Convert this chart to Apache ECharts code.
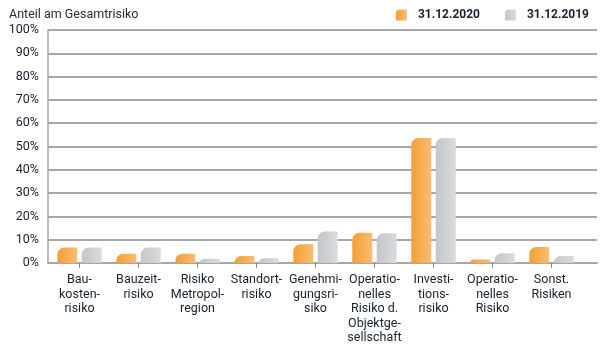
<!DOCTYPE html>
<html>
<head>
<meta charset="utf-8">
<script src="https://cdn.jsdelivr.net/npm/echarts@6/dist/echarts.min.js"></script>
<style>
  html, body { margin: 0; padding: 0; background: #fff; }
  #chart { width: 600px; height: 348px; }
</style>
</head>
<body>
<div id="chart"></div>
<script>
// Risk categories (line breaks as printed under the axis)
const categories = [
  'Bau-\nkosten-\nrisiko',
  'Bauzeit-\nrisiko',
  'Risiko\nMetropol-\nregion',
  'Standort-\nrisiko',
  'Genehmi-\ngungsri-\nsiko',
  'Operatio-\nnelles\nRisiko d.\nObjektge-\nsellschaft',
  'Investi-\ntions-\nrisiko',
  'Operatio-\nnelles\nRisiko',
  'Sonst.\nRisiken'
];
// Share of total risk in percent
const values2020 = [6.6, 4.0, 4.0, 3.0, 8.0, 13.0, 53.6, 1.5, 6.9];
const values2019 = [6.6, 6.6, 1.8, 2.0, 13.5, 12.8, 53.6, 4.2, 3.0];
const seriesNames = ['31.12.2020', '31.12.2019'];
const yTicks = { min: 0, max: 100, step: 10 };

const textColor = '#17202e';
const gridColor = '#a6a6a6';
const font = 'Roboto';

function grad(c1, c2) {
  return new echarts.graphic.LinearGradient(0, 0, 1, 0, [
    { offset: 0, color: c1 }, { offset: 1, color: c2 }
  ]);
}
const orange = grad('#f59e34', '#f9bd70');
const gray = grad('#c3c7ca', '#d9dbdd');
const cornerIcon = 'path://M7,0 L20,0 L20,20 L0,20 L0,7 Q0,0 7,0 Z';

const chart = echarts.init(document.getElementById('chart'), null, { renderer: 'canvas' });
chart.setOption({
  animation: false,
  backgroundColor: '#fff',
  title: {
    text: 'Anteil am Gesamtrisiko',
    left: 4, top: 3,
    textStyle: { fontFamily: font, fontSize: 12.5, fontWeight: 'normal', color: '#262b33' }
  },
  legend: {
    right: 6, top: 4,
    itemWidth: 11, itemHeight: 12,
    itemGap: 25,
    icon: cornerIcon,
    textStyle: { fontFamily: font, fontSize: 12, fontWeight: 'bold', color: textColor, padding: [0, 0, 0, 6] },
    data: seriesNames
  },
  grid: [
    { left: 48, right: 3, top: 30, bottom: 85 },
    { left: 50, right: 19, top: 30, bottom: 85 }
  ],
  xAxis: [
    {
      gridIndex: 0, type: 'value', min: 0, max: 1,
      axisLine: { show: true, lineStyle: { color: gridColor, width: 2 } },
      axisTick: { show: false }, axisLabel: { show: false }, splitLine: { show: false }
    },
    {
      gridIndex: 1, type: 'category', data: categories,
      axisLine: { show: false },
      axisTick: { show: true, alignWithLabel: true, length: 5, lineStyle: { color: '#8a8a8a', width: 1 } },
      axisLabel: {
        interval: 0, margin: 10,
        fontFamily: font, fontSize: 12.5, lineHeight: 14.5, color: textColor, align: 'center'
      }
    }
  ],
  yAxis: [
    {
      gridIndex: 0, type: 'value', min: yTicks.min, max: yTicks.max, interval: yTicks.step,
      axisLine: { show: true, lineStyle: { color: gridColor, width: 1.5 } },
      axisTick: { show: false },
      axisLabel: { formatter: '{value}%', fontFamily: font, fontSize: 12.5, color: textColor, margin: 9 },
      splitLine: { show: true, lineStyle: { color: gridColor, width: 2 } }
    },
    {
      gridIndex: 1, type: 'value', min: yTicks.min, max: yTicks.max, interval: yTicks.step, show: false,
      splitLine: { show: false }
    }
  ],
  series: [
    {
      name: seriesNames[0], type: 'bar', xAxisIndex: 1, yAxisIndex: 1,
      data: values2020, barWidth: 20, barGap: '22%',
      itemStyle: { color: orange, borderRadius: [7, 0, 0, 0] }
    },
    {
      name: seriesNames[1], type: 'bar', xAxisIndex: 1, yAxisIndex: 1,
      data: values2019, barWidth: 20, barGap: '22%',
      itemStyle: { color: gray, borderRadius: [7, 0, 0, 0] }
    }
  ]
});
</script>
</body>
</html>
